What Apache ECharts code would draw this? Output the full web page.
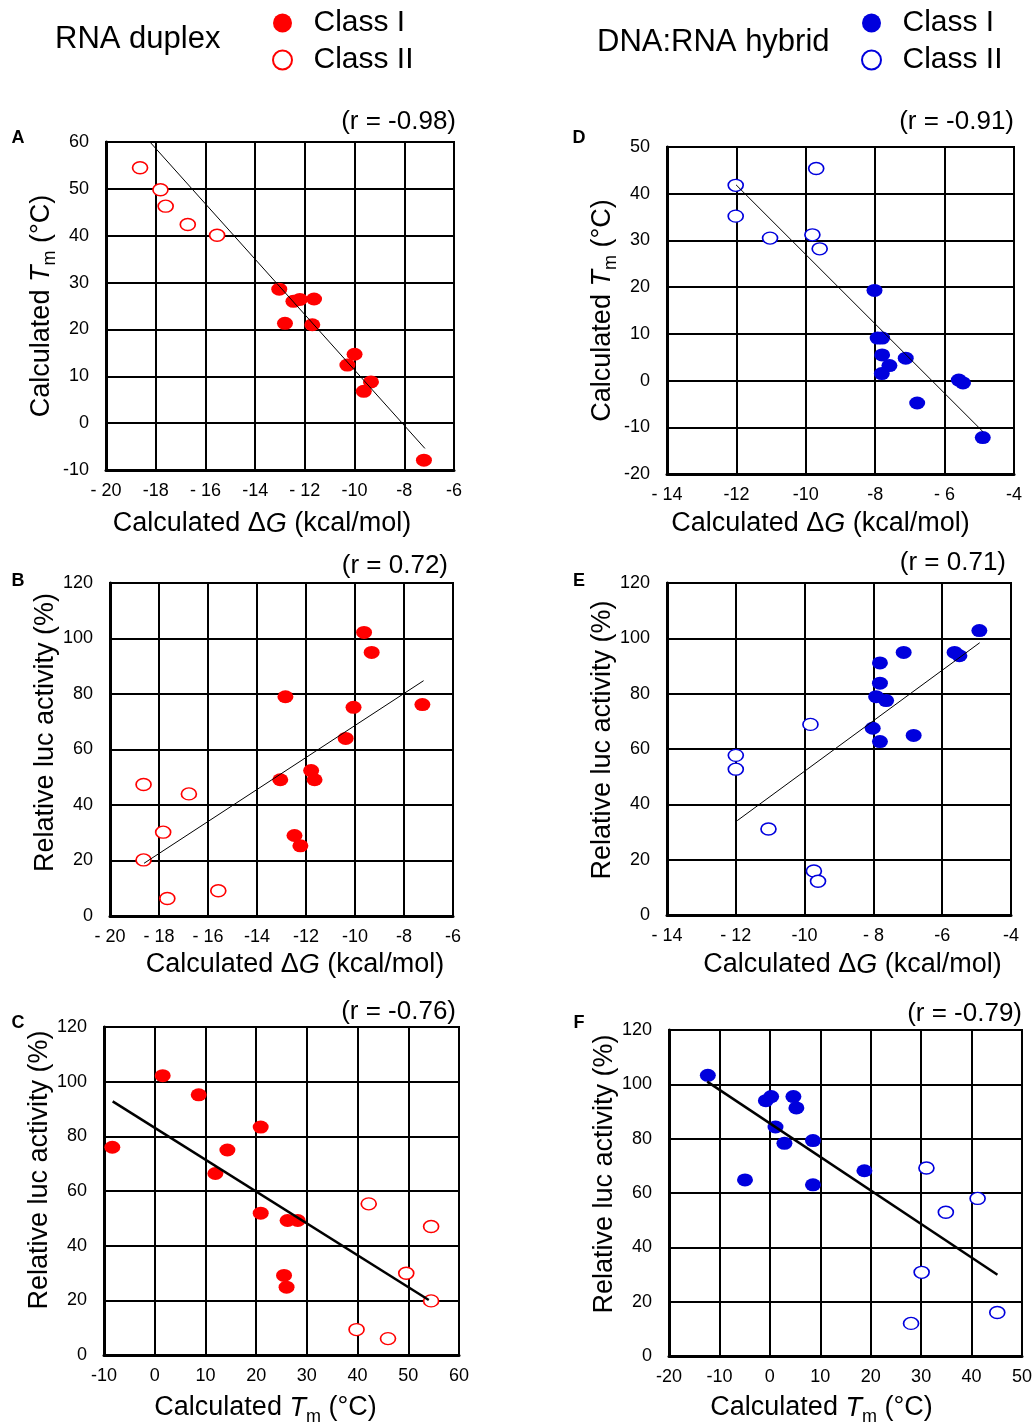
<!DOCTYPE html>
<html>
<head>
<meta charset="utf-8">
<script src="https://cdn.jsdelivr.net/npm/echarts@6/dist/echarts.min.js"></script>
<style>
  html, body { margin: 0; padding: 0; background: #fff; }
  #chart { width: 1035px; height: 1427px; }
</style>
</head>
<body>
<div id="chart"></div>
<script>
// ---------------- DATA ----------------
// Panel A: RNA duplex, Calculated dG vs Calculated Tm
const panelA_classI = [[-13.03,28.6],[-12.80,21.3],[-12.46,26.0],[-12.20,26.4],[-11.63,26.5],[-11.70,21.0],[-10.0,14.7],[-10.29,12.4],[-9.34,8.8],[-9.63,6.8],[-7.21,-7.9]];
const panelA_classII = [[-18.63,54.5],[-17.81,49.8],[-17.6,46.3],[-16.71,42.4],[-15.53,40.1]];
const panelA_trend = [[-18.3,60.4],[-7.17,-5.4]];
// Panel B: RNA duplex, Calculated dG vs Relative luc activity
const panelB_classI = [[-9.63,102.2],[-9.32,95.0],[-12.84,79.0],[-10.06,75.2],[-7.25,76.2],[-10.38,64.0],[-11.79,52.4],[-11.65,49.1],[-13.05,49.1],[-12.47,29.0],[-12.23,25.3]];
const panelB_classII = [[-18.63,47.4],[-16.78,44.0],[-17.83,30.2],[-18.63,20.2],[-17.66,6.3],[-15.58,9.1]];
const panelB_trend = [[-18.61,19.0],[-7.2,84.8]];
// Panel C: RNA duplex, Calculated Tm vs Relative luc activity
const panelC_classI = [[-8.36,76.0],[1.57,102.2],[8.67,95.2],[14.33,75.0],[11.96,66.4],[20.9,83.4],[20.9,51.9],[26.2,49.2],[28.2,49.2],[25.5,29.1],[26.0,24.8]];
const panelC_classII = [[42.2,55.3],[54.5,47.0],[49.6,29.9],[54.5,19.8],[39.8,9.3],[46.0,6.0]];
const panelC_trend = [[-8.29,92.8],[54.04,20.1]];
// Panel D: DNA:RNA hybrid, Calculated dG vs Calculated Tm
const panelD_classI = [[-8.02,19.3],[-7.93,9.1],[-7.80,9.1],[-7.80,5.5],[-7.59,3.2],[-7.81,1.5],[-7.12,4.8],[-6.79,-4.8],[-5.59,0.1],[-5.47,-0.5],[-4.90,-12.2]];
const panelD_classII = [[-12.02,41.8],[-12.02,35.2],[-11.03,30.5],[-9.70,45.4],[-9.81,31.2],[-9.60,28.2]];
const panelD_trend = [[-12.01,41.9],[-4.90,-10.9]];
// Panel E: DNA:RNA hybrid, Calculated dG vs Relative luc activity
const panelE_classI = [[-4.92,102.8],[-7.12,94.9],[-5.64,94.9],[-5.50,93.7],[-7.81,91.1],[-7.81,83.8],[-7.92,78.9],[-7.63,77.5],[-8.02,67.5],[-7.81,62.7],[-6.83,64.9]];
const panelE_classII = [[-12.0,57.7],[-12.0,52.7],[-9.83,68.9],[-11.05,31.1],[-9.73,15.9],[-9.61,12.2]];
const panelE_trend = [[-11.96,34.1],[-4.91,98.4]];
// Panel F: DNA:RNA hybrid, Calculated Tm vs Relative luc activity
const panelF_classI = [[-12.3,103.3],[-0.79,94.0],[0.26,95.5],[4.67,95.5],[5.26,91.3],[1.12,84.3],[2.89,78.3],[8.55,79.3],[-4.93,64.8],[8.55,63.0],[18.75,68.2]];
const panelF_classII = [[31.05,69.2],[41.2,58.0],[34.9,52.9],[30.1,30.8],[28.0,12.0],[45.1,16.0]];
const panelF_trend = [[-12.43,101.0],[45.13,29.9]];

// Tick labels
const xTicksA = ['- 20','-18','- 16','-14','- 12','-10','-8','-6'];
const xTicksB = ['- 20','- 18','- 16','-14','-12','-10','-8','-6'];
const xTicksC = ['-10','0','10','20','30','40','50','60'];
const xTicksD = ['- 14','-12','-10','-8','- 6','-4'];
const xTicksE = ['- 14','- 12','-10','- 8','-6','-4'];
const xTicksF = ['-20','-10','0','10','20','30','40','50'];
const yTicksA = ['-10','0','10','20','30','40','50','60'];
const yTicksD = ['-20','-10','0','10','20','30','40','50'];
const yTicksLuc = ['0','20','40','60','80','100','120'];

// Text
const rValues = ['(r = -0.98)','(r = 0.72)','(r = -0.76)','(r = -0.91)','(r = 0.71)','(r = -0.79)'];
const panelLetters = ['A','B','C','D','E','F'];
const groupTitles = ['RNA duplex','DNA:RNA hybrid'];
const classNames = ['Class I','Class II'];

// ---------------- STYLE / LAYOUT ----------------
const FONT = '"Liberation Sans", Arial, Helvetica, sans-serif';
const RED = '#ff0000';
const BLUE = '#0000dd';

const nameTm = '{n|Calculated }{i|T}{s|m}{n| (°C)}';
const nameDG = '{n|Calculated Δ}{i|G}{n| (kcal/mol)}';
const nameLuc = '{n|Relative luc activity (%)}';
const richText = {
  n: {fontSize: 27, fontFamily: FONT, color: '#000', lineHeight: 36, verticalAlign: 'middle'},
  i: {fontSize: 27, fontFamily: FONT, color: '#000', fontStyle: 'italic', lineHeight: 36, verticalAlign: 'middle'},
  s: {fontSize: 18, fontFamily: FONT, color: '#000', lineHeight: 17, verticalAlign: 'bottom'}
};

const panels = [
  {grid:{left:106,top:142,width:348,height:328}, x:{min:-20,max:-6,interval:2,labels:xTicksA,name:nameDG,gap:36,pad:[0,36,0,0]}, y:{min:-10,max:60,interval:10,labels:yTicksA,name:nameTm,gap:29,pad:[0,0,0,0]}, c1:panelA_classI, c2:panelA_classII, tr:panelA_trend, color:RED, prefix:'RNA duplex ', tw:1, r:{x:456,y:122}, l:{x:18,y:138}},
  {grid:{left:110,top:583,width:343,height:333}, x:{min:-20,max:-6,interval:2,labels:xTicksB,name:nameDG,gap:31,pad:[0,0,0,27]}, y:{min:0,max:120,interval:20,labels:yTicksLuc,name:nameLuc,gap:38,pad:[0,0,0,34]}, c1:panelB_classI, c2:panelB_classII, tr:panelB_trend, color:RED, prefix:'RNA duplex ', tw:1, r:{x:448,y:566}, l:{x:18,y:581}},
  {grid:{left:104,top:1027,width:355,height:332}, x:{min:-10,max:60,interval:10,labels:xTicksC,name:nameTm,gap:35,pad:[0,32,0,0]}, y:{min:0,max:120,interval:20,labels:yTicksLuc,name:nameLuc,gap:30,pad:[0,0,0,42]}, c1:panelC_classI, c2:panelC_classII, tr:panelC_trend, color:RED, prefix:'RNA duplex ', tw:2.5, r:{x:456,y:1012}, l:{x:18,y:1023}},
  {grid:{left:667,top:147,width:347,height:327}, x:{min:-14,max:-4,interval:2,labels:xTicksD,name:nameDG,gap:32,pad:[0,40,0,0]}, y:{min:-20,max:50,interval:10,labels:yTicksD,name:nameTm,gap:31,pad:[0,0,0,0]}, c1:panelD_classI, c2:panelD_classII, tr:panelD_trend, color:BLUE, prefix:'DNA:RNA hybrid ', tw:1, r:{x:1014,y:122}, l:{x:579,y:138}},
  {grid:{left:667,top:583,width:344,height:332}, x:{min:-14,max:-4,interval:2,labels:xTicksE,name:nameDG,gap:32,pad:[0,0,0,27]}, y:{min:0,max:120,interval:20,labels:yTicksLuc,name:nameLuc,gap:33,pad:[0,0,0,18]}, c1:panelE_classI, c2:panelE_classII, tr:panelE_trend, color:BLUE, prefix:'DNA:RNA hybrid ', tw:1, r:{x:1006,y:563}, l:{x:579,y:581}},
  {grid:{left:669,top:1030,width:355,height:332}, x:{min:-20,max:50,interval:10,labels:xTicksF,name:nameTm,gap:34,pad:[0,48,0,0]}, y:{min:0,max:120,interval:20,labels:yTicksLuc,name:nameLuc,gap:35,pad:[0,0,0,38]}, c1:panelF_classI, c2:panelF_classII, tr:panelF_trend, color:BLUE, prefix:'DNA:RNA hybrid ', tw:2.5, r:{x:1022,y:1014}, l:{x:579,y:1023}}
];

const grids = [], xAxes = [], yAxes = [], series = [], graphics = [];
panels.forEach((p, i) => {
  grids.push(Object.assign({show: true, borderColor: '#000', borderWidth: 2, backgroundColor: '#fff'}, p.grid));
  xAxes.push({
    type: 'value', gridIndex: i, min: p.x.min, max: p.x.max, interval: p.x.interval,
    name: p.x.name, nameLocation: 'middle', nameGap: p.x.gap,
    nameTextStyle: {rich: richText, padding: p.x.pad},
    axisLine: {show: true, onZero: false, lineStyle: {color: '#000', width: 3}},
    axisTick: {show: false},
    splitLine: {show: true, lineStyle: {color: '#000', width: 2}},
    axisLabel: {color: '#000', fontSize: 18, fontFamily: FONT, margin: 12,
      formatter: (v) => p.x.labels[Math.round((v - p.x.min) / p.x.interval)]}
  });
  yAxes.push({
    type: 'value', gridIndex: i, min: p.y.min, max: p.y.max, interval: p.y.interval,
    name: p.y.name, nameLocation: 'middle', nameGap: p.y.gap, nameRotate: 90,
    nameTextStyle: {rich: richText, padding: p.y.pad},
    axisLine: {show: true, onZero: false, lineStyle: {color: '#000', width: 3}},
    axisTick: {show: false},
    splitLine: {show: true, lineStyle: {color: '#000', width: 2}},
    axisLabel: {color: '#000', fontSize: 18, fontFamily: FONT, margin: 17,
      formatter: (v) => p.y.labels[Math.round((v - p.y.min) / p.y.interval)]}
  });
  series.push({
    name: p.prefix + classNames[0], type: 'scatter', xAxisIndex: i, yAxisIndex: i,
    data: p.c1, symbol: 'circle', symbolSize: [16, 13],
    itemStyle: {color: p.color, opacity: 1}, z: 3
  });
  series.push({
    name: p.prefix + classNames[1], type: 'scatter', xAxisIndex: i, yAxisIndex: i,
    data: p.c2, symbol: 'circle', symbolSize: [15, 12],
    itemStyle: {color: '#fff', borderColor: p.color, borderWidth: 1.5, opacity: 1}, z: 3
  });
  series.push({
    name: 'trend ' + panelLetters[i], type: 'line', xAxisIndex: i, yAxisIndex: i,
    data: p.tr, symbol: 'none', silent: true,
    lineStyle: {color: '#000', width: p.tw}, z: 4
  });
  graphics.push({type: 'text', x: p.r.x, y: p.r.y,
    style: {text: rValues[i], fill: '#000', fontSize: 26, fontFamily: FONT, align: 'right', verticalAlign: 'middle'}});
  graphics.push({type: 'text', x: p.l.x, y: p.l.y,
    style: {text: panelLetters[i], fill: '#000', fontSize: 18, fontWeight: 'bold', fontFamily: FONT, align: 'center', verticalAlign: 'middle'}});
});

graphics.push({type: 'text', x: 55, y: 39,
  style: {text: groupTitles[0], fill: '#000', fontSize: 31, fontFamily: FONT, align: 'left', verticalAlign: 'middle'}});
graphics.push({type: 'text', x: 597, y: 42,
  style: {text: groupTitles[1], fill: '#000', fontSize: 31, fontFamily: FONT, align: 'left', verticalAlign: 'middle'}});

function makeLegend(prefix, color, left) {
  return {
    left: left, top: 3, orient: 'vertical', itemGap: 7, itemWidth: 20, itemHeight: 19,
    icon: 'circle', selectedMode: false,
    data: [
      {name: prefix + classNames[0], itemStyle: {color: color, borderWidth: 0}},
      {name: prefix + classNames[1], itemStyle: {color: '#fff', borderColor: color, borderWidth: 2}}
    ],
    formatter: (n) => n.replace(prefix, ''),
    textStyle: {color: '#000', fontSize: 30, fontFamily: FONT, lineHeight: 30, padding: [0, 0, 0, 16]}
  };
}

const chart = echarts.init(document.getElementById('chart'), null, {renderer: 'canvas'});
chart.setOption({
  animation: false,
  backgroundColor: '#fff',
  legend: [makeLegend('RNA duplex ', RED, 267), makeLegend('DNA:RNA hybrid ', BLUE, 856)],
  grid: grids,
  xAxis: xAxes,
  yAxis: yAxes,
  series: series,
  graphic: graphics
});
</script>
</body>
</html>
